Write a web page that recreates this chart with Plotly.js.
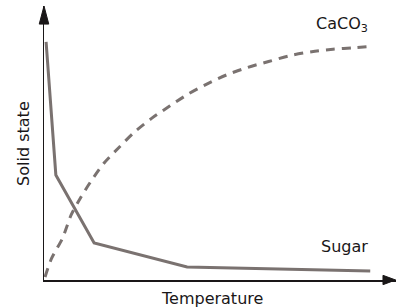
<!DOCTYPE html>
<html>
<head>
<meta charset="utf-8">
<script src="https://cdn.plot.ly/plotly-3.0.1.min.js"></script>
<style>html,body{margin:0;padding:0;background:#fff;}#chart{width:396px;height:308px;}</style>
</head>
<body>
<div id="chart"></div>
<script>
// Sugar (solid line)
const sugarX = [0.6, 3.4, 14.4, 41.1, 93.7];
const sugarY = [87.5, 38.6, 13.6, 4.8, 3.3];
// CaCO3 (dashed curve)
const caco3X = [0.3, 2.2, 5.3, 7.8, 10.3, 13.4, 17.2, 21.6, 25.9, 30.9, 36.2, 41.5, 46.9, 52.5, 58.4, 64.5, 70.8, 76.9, 83.0, 89.4, 93.4];
const caco3Y = [1.1, 8.0, 15.3, 23.9, 29.8, 36.1, 42.9, 48.8, 54.3, 59.4, 64.0, 68.4, 72.1, 75.4, 78.1, 80.3, 82.5, 83.9, 84.8, 85.4, 85.8];
const seriesNames = ["Sugar", "CaCO<sub>3</sub>"];
const xTitle = "Temperature";
const yTitle = "Solid state";

const lineColor = "#7a7270";
const textColor = "#1a1718";
const font = "DejaVu Sans, Verdana, sans-serif";

const traces = [
  {x: caco3X, y: caco3Y, mode: "lines", line: {color: lineColor, width: 3, dash: "9px,7px", shape: "spline", smoothing: 0.8}, hoverinfo: "skip", name: seriesNames[1]},
  {x: sugarX, y: sugarY, mode: "lines", line: {color: lineColor, width: 3}, hoverinfo: "skip", name: seriesNames[0]}
];

const layout = {
  width: 396, height: 308,
  margin: {l: 44, r: 0, t: 6, b: 28},
  paper_bgcolor: "#fff", plot_bgcolor: "#fff",
  showlegend: false,
  font: {family: font, color: textColor, size: 16},
  xaxis: {range: [0, 101.1], showgrid: false, zeroline: false, showticklabels: false, ticks: "",
          showline: true, linecolor: textColor, linewidth: 1.5},
  yaxis: {range: [0, 100.7], showgrid: false, zeroline: false, showticklabels: false, ticks: "",
          showline: true, linecolor: textColor, linewidth: 1.5},
  shapes: [
    {type: "path", xref: "paper", yref: "paper",
     path: "M0,1 L-0.0135,0.934 L0.0135,0.934 Z", fillcolor: textColor, line: {width: 1, color: textColor}},
    {type: "path", xref: "paper", yref: "paper",
     path: "M0.999,0 L0.963,0.017 L0.963,-0.017 Z", fillcolor: textColor, line: {width: 1, color: textColor}}
  ],
  annotations: [
    {xref: "x", yref: "y", x: 93.7, y: 12.2, text: seriesNames[0], showarrow: false, xanchor: "right", yanchor: "middle", font: {size: 16}},
    {xref: "x", yref: "y", x: 93.7, y: 93.8, text: seriesNames[1], showarrow: false, xanchor: "right", yanchor: "middle", font: {size: 16}},
    {xref: "paper", yref: "paper", x: 0.476, y: -0.066, text: xTitle, showarrow: false, xanchor: "center", yanchor: "middle", font: {size: 16}},
    {xref: "paper", yref: "paper", x: -0.06, y: 0.5, text: yTitle, showarrow: false, xanchor: "center", yanchor: "middle", textangle: -90, font: {size: 16}}
  ]
};

Plotly.newPlot("chart", traces, layout, {staticPlot: true, displayModeBar: false});
</script>
</body>
</html>
